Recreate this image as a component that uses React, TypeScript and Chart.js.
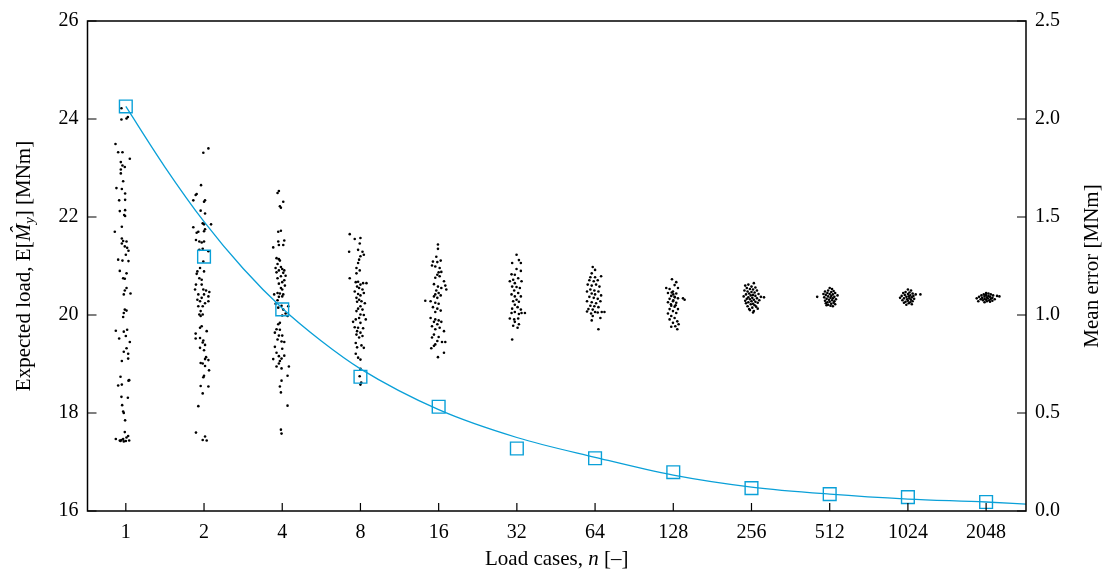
import React, { useEffect, useRef } from "react";
import { Chart, registerables } from "chart.js";

Chart.register(...registerables);

// ---------- data ----------
const categories = ["1", "2", "4", "8", "16", "32", "64", "128", "256", "512", "1024", "2048"];
const leftTicks = [16, 18, 20, 22, 24, 26];
const rightTicks = [0, 0.5, 1, 1.5, 2, 2.5];

// mean error (right axis), one per category
const meanError = [2.064, 1.298, 1.029, 0.685, 0.532, 0.319, 0.269, 0.198, 0.117, 0.086, 0.071, 0.046];

// fitted curve (x in category index units, y on right axis)
const fitX = [0, 0.5, 1, 1.5, 2, 2.5, 3, 4, 5, 6, 7, 8, 9, 10, 11, 11.51];
const fitY = [2.064, 1.755, 1.476, 1.237, 1.034, 0.867, 0.725, 0.517, 0.375, 0.274, 0.183, 0.122, 0.086, 0.061, 0.046, 0.035];

// samples per category: [jitter offset, expected load]
const samples1 = [[-0.056,24.22],[-0.056,23.99],[0.009,24.01],[0.026,24.04],[-0.132,23.49],[-0.098,23.32],[-0.043,23.32],[0.051,23.19],[-0.064,23.12],[-0.043,23.05],[-0.013,23.02],[-0.064,22.97],[-0.064,22.89],[-0.034,22.73],[-0.12,22.59],[-0.051,22.57],[-0.009,22.48],[-0.085,22.34],[-0.009,22.35],[-0.077,22.12],[-0.009,22.14],[-0.009,22.02],[-0.021,22.04],[-0.141,21.70],[-0.051,21.80],[-0.051,21.56],[-0.034,21.51],[0.009,21.50],[-0.051,21.46],[-0.013,21.40],[0.017,21.37],[0.034,21.31],[0,21.23],[-0.098,21.13],[-0.043,21.11],[0.034,21.10],[-0.077,20.90],[0.009,20.85],[-0.034,20.75],[-0.013,20.74],[0.009,20.55],[-0.013,20.50],[0.06,20.44],[-0.026,20.42],[-0.013,20.11],[-0.026,20.04],[0.009,20.09],[-0.034,19.96],[-0.128,19.68],[-0.026,19.66],[0.017,19.70],[0,19.57],[-0.085,19.52],[0.051,19.45],[0.009,19.32],[-0.026,19.25],[0.03,19.21],[0.03,19.11],[-0.051,19.06],[-0.068,18.74],[0.043,18.67],[0.034,18.66],[-0.098,18.56],[-0.051,18.58],[-0.056,18.33],[0.026,18.31],[-0.047,18.16],[-0.034,18.03],[-0.026,18.00],[-0.009,17.85],[-0.013,17.61],[-0.128,17.47],[-0.077,17.44],[-0.056,17.45],[-0.034,17.47],[0.009,17.50],[0.03,17.53],[0.043,17.44],[0,17.43],[-0.026,17.42],[-0.068,17.43]];
const samples2 = [[-0.009,23.31],[0.056,23.40],[-0.038,22.65],[-0.094,22.47],[-0.107,22.45],[-0.137,22.34],[0.013,22.34],[0,22.31],[-0.043,22.13],[0.013,22.07],[-0.017,21.87],[0,21.85],[0.09,21.85],[-0.137,21.79],[-0.073,21.70],[-0.094,21.68],[0,21.71],[0.013,21.75],[-0.103,21.53],[-0.06,21.50],[-0.03,21.48],[0,21.50],[-0.06,21.33],[-0.017,21.35],[0.056,21.30],[-0.009,21.09],[-0.051,20.96],[-0.085,20.89],[-0.094,20.84],[0,20.89],[-0.06,20.75],[-0.03,20.72],[-0.103,20.62],[-0.03,20.62],[-0.009,20.52],[0.026,20.50],[-0.115,20.52],[0.068,20.47],[-0.073,20.42],[0,20.42],[-0.03,20.35],[0.056,20.38],[-0.085,20.31],[-0.051,20.28],[0.013,20.24],[0.056,20.28],[-0.073,20.18],[-0.017,20.18],[-0.043,20.08],[-0.06,20.01],[-0.017,20.01],[-0.043,19.98],[-0.03,19.77],[-0.051,19.74],[0.034,19.67],[-0.107,19.62],[-0.107,19.52],[-0.051,19.53],[-0.009,19.48],[-0.017,19.44],[0.013,19.39],[-0.051,19.33],[0,19.28],[0.026,19.14],[0.013,19.10],[0.056,19.08],[-0.043,19.02],[-0.017,19.01],[0.013,18.96],[0.064,18.87],[0,18.76],[-0.009,18.73],[-0.043,18.55],[0.056,18.54],[-0.017,18.40],[-0.073,18.14],[-0.103,17.60],[-0.017,17.45],[0.013,17.52],[0.034,17.44]];
const samples4 = [[-0.06,22.49],[-0.043,22.53],[0.013,22.31],[-0.03,22.22],[-0.017,22.19],[-0.051,21.70],[-0.017,21.72],[-0.051,21.50],[0.026,21.52],[-0.115,21.38],[-0.043,21.43],[0.013,21.43],[-0.073,21.16],[-0.043,21.14],[-0.03,21.11],[-0.06,21.04],[-0.085,20.96],[-0.017,20.98],[0,20.94],[-0.043,20.91],[0.026,20.91],[0.013,20.86],[-0.073,20.87],[0.043,20.80],[-0.017,20.79],[-0.06,20.75],[0.026,20.71],[0,20.67],[-0.043,20.64],[0.034,20.60],[-0.017,20.55],[0,20.52],[-0.06,20.45],[-0.03,20.44],[0.013,20.42],[-0.103,20.42],[-0.043,20.37],[0,20.38],[-0.06,20.30],[-0.085,20.23],[-0.009,20.19],[0.077,20.18],[-0.051,20.15],[0.013,20.11],[0.043,20.03],[0,19.99],[0.068,19.98],[-0.03,19.84],[-0.051,19.81],[-0.073,19.71],[-0.03,19.70],[-0.094,19.64],[-0.043,19.58],[0,19.58],[-0.06,19.50],[-0.009,19.46],[0.026,19.45],[-0.094,19.35],[0,19.31],[-0.073,19.23],[-0.043,19.16],[0.026,19.17],[-0.115,19.10],[-0.009,19.11],[-0.03,19.06],[-0.043,19.01],[-0.073,18.95],[0.085,18.95],[-0.009,18.91],[0.068,18.76],[-0.009,18.66],[-0.03,18.54],[-0.017,18.42],[0.068,18.15],[-0.017,17.66],[-0.009,17.58]];
const samples8 = [[-0.137,21.65],[-0.073,21.55],[0,21.57],[-0.009,21.46],[-0.145,21.29],[-0.03,21.33],[0.026,21.29],[0.043,21.23],[0,21.20],[-0.017,21.13],[-0.03,21.06],[-0.051,20.96],[-0.009,20.91],[-0.051,20.85],[-0.137,20.75],[-0.06,20.67],[-0.03,20.68],[0.034,20.65],[0.077,20.65],[0,20.62],[-0.043,20.58],[-0.017,20.55],[0.026,20.52],[-0.073,20.48],[-0.03,20.43],[0,20.40],[0.043,20.45],[-0.051,20.35],[-0.017,20.31],[0.013,20.28],[-0.043,20.27],[0.056,20.24],[0,20.18],[-0.03,20.13],[0.026,20.11],[-0.051,20.08],[0,20.01],[0.043,20.00],[-0.017,19.94],[-0.06,19.91],[0.068,19.91],[-0.094,19.86],[0,19.84],[-0.073,19.75],[-0.03,19.74],[0.034,19.73],[-0.043,19.67],[0,19.64],[-0.051,19.60],[0.026,19.57],[-0.017,19.54],[-0.06,19.43],[0.013,19.38],[-0.043,19.34],[0.043,19.33],[-0.06,19.21],[-0.03,19.13],[0,19.09],[0,18.90],[-0.01,18.75],[0.01,18.62],[0,18.58]];
const samples16 = [[-0.009,21.44],[-0.009,21.35],[-0.03,21.19],[-0.073,21.09],[-0.017,21.08],[0.026,21.11],[-0.085,21.01],[-0.043,20.99],[0.013,20.96],[0,20.87],[0.034,20.88],[-0.017,20.82],[0.013,20.79],[-0.043,20.76],[-0.06,20.63],[0.068,20.69],[0.085,20.60],[-0.009,20.58],[0.034,20.55],[0.098,20.52],[-0.03,20.50],[0,20.45],[-0.043,20.42],[0.026,20.40],[-0.06,20.38],[-0.017,20.35],[-0.171,20.29],[-0.103,20.28],[-0.043,20.25],[0,20.23],[-0.073,20.16],[-0.017,20.13],[0.026,20.09],[-0.043,20.06],[-0.103,19.94],[-0.043,19.91],[0,19.89],[-0.06,19.86],[0.034,19.86],[-0.017,19.81],[-0.085,19.77],[0.013,19.74],[-0.043,19.71],[0.068,19.67],[-0.06,19.60],[0,19.55],[-0.085,19.54],[-0.017,19.47],[0.043,19.45],[0.085,19.45],[-0.043,19.40],[-0.094,19.32],[-0.06,19.37],[0.068,19.23],[-0.009,19.14]];
const samples32 = [[-0.004,21.23],[-0.06,21.06],[0.026,21.12],[0.051,21.06],[-0.004,20.94],[-0.068,20.83],[-0.026,20.82],[0.051,20.90],[0.017,20.75],[-0.047,20.72],[-0.09,20.69],[-0.026,20.65],[0.06,20.69],[-0.06,20.58],[-0.004,20.57],[0.038,20.55],[-0.034,20.50],[0.017,20.45],[-0.068,20.42],[-0.026,20.38],[0.051,20.38],[-0.004,20.31],[-0.047,20.28],[0.026,20.27],[-0.026,20.21],[0.009,20.16],[-0.06,20.13],[0.051,20.11],[-0.026,20.06],[-0.068,20.04],[0.026,20.02],[0.06,20.04],[0.103,20.04],[-0.09,19.93],[-0.034,19.91],[0.017,19.93],[-0.026,19.86],[0.026,19.81],[-0.047,19.78],[0.009,19.74],[-0.06,19.50]];
const samples64 = [[-0.03,20.98],[0,20.92],[-0.043,20.85],[-0.06,20.77],[0,20.77],[0.077,20.79],[-0.073,20.71],[-0.017,20.69],[0.034,20.71],[-0.094,20.62],[-0.043,20.60],[0.013,20.62],[0.056,20.58],[-0.06,20.52],[-0.009,20.50],[-0.103,20.48],[0.043,20.48],[-0.043,20.44],[0,20.42],[0.077,20.40],[-0.073,20.37],[-0.017,20.35],[0.034,20.33],[-0.103,20.28],[-0.043,20.26],[0.013,20.24],[0.068,20.28],[-0.06,20.19],[-0.009,20.18],[0.043,20.16],[-0.085,20.12],[-0.03,20.11],[-0.103,20.07],[0,20.06],[-0.051,20.03],[0.034,20.05],[0.085,20.06],[0.12,20.06],[-0.03,19.98],[0.068,19.94],[-0.043,19.89],[0.043,19.71]];
const samples128 = [[-0.017,20.73],[0.038,20.67],[0.017,20.61],[-0.09,20.55],[-0.047,20.53],[0.06,20.55],[-0.004,20.48],[-0.068,20.45],[0.038,20.44],[-0.026,20.39],[0.017,20.37],[-0.047,20.33],[0.06,20.34],[0.124,20.34],[-0.004,20.28],[-0.068,20.26],[0.038,20.25],[0.145,20.31],[-0.026,20.19],[0.017,20.17],[-0.047,20.12],[0.06,20.12],[-0.004,20.08],[-0.068,20.03],[0.038,20.04],[-0.026,19.98],[0.017,19.94],[-0.047,19.91],[0.051,19.87],[-0.004,19.84],[0.068,19.81],[-0.026,19.76],[0.026,19.77],[0.051,19.71],[0,20.42],[-0.02,20.46],[0.02,20.36],[0.0,20.30],[-0.03,20.22],[0.03,20.20]];
const samples256 = [[-0.08,20.60],[-0.04,20.62],[0.03,20.65],[0,20.58],[-0.06,20.55],[0.05,20.56],[-0.02,20.53],[0.02,20.52],[-0.09,20.50],[0.07,20.50],[-0.05,20.48],[0,20.47],[0.04,20.46],[-0.03,20.44],[0.09,20.43],[-0.07,20.42],[0.02,20.41],[-0.01,20.40],[0.05,20.39],[-0.1,20.38],[0.12,20.37],[0.16,20.36],[-0.04,20.36],[0.01,20.35],[0.07,20.34],[-0.06,20.33],[-0.02,20.32],[0.03,20.31],[0.1,20.30],[-0.08,20.29],[0,20.28],[0.05,20.27],[-0.04,20.26],[0.08,20.25],[-0.07,20.24],[0.02,20.23],[-0.01,20.22],[0.04,20.20],[-0.05,20.18],[0.06,20.17],[0.01,20.15],[-0.03,20.12],[0.08,20.13],[0.03,20.08],[-0.02,20.10],[0.02,20.05]];
const samples512 = [[0,20.55],[0.03,20.53],[-0.02,20.50],[0.05,20.49],[-0.06,20.48],[0.02,20.47],[-0.03,20.45],[0.07,20.45],[-0.08,20.43],[0,20.43],[0.04,20.42],[-0.05,20.41],[0.1,20.40],[0.02,20.39],[-0.02,20.38],[-0.16,20.37],[0.06,20.37],[-0.07,20.36],[0.01,20.35],[0.04,20.34],[-0.04,20.33],[0.08,20.32],[-0.01,20.31],[0.03,20.30],[-0.06,20.29],[0.06,20.28],[0,20.27],[-0.03,20.26],[0.05,20.25],[-0.05,20.24],[0.02,20.23],[0.07,20.22],[-0.02,20.21],[0.01,20.19],[0.04,20.18],[-0.04,20.20]];
const samples1024 = [[0,20.52],[0.04,20.50],[-0.03,20.47],[0.02,20.46],[-0.06,20.45],[0.06,20.44],[0,20.43],[0.1,20.42],[0.16,20.42],[-0.04,20.41],[0.03,20.40],[-0.08,20.39],[0.07,20.39],[0.01,20.38],[-0.02,20.37],[0.05,20.36],[-0.1,20.35],[-0.05,20.34],[0.02,20.34],[0.08,20.33],[-0.01,20.32],[0.04,20.31],[-0.07,20.30],[0,20.29],[0.06,20.28],[-0.03,20.27],[0.03,20.26],[-0.05,20.25],[0.01,20.24],[0.05,20.22],[-0.02,20.21]];
const samples2048 = [[0,20.45],[0.03,20.44],[-0.03,20.42],[0.06,20.42],[0,20.41],[-0.06,20.40],[0.09,20.40],[0.14,20.39],[0.17,20.38],[0.03,20.39],[-0.02,20.38],[0.05,20.37],[-0.09,20.37],[0.01,20.36],[-0.05,20.35],[0.08,20.35],[-0.12,20.34],[0.02,20.34],[-0.02,20.33],[0.06,20.33],[-0.07,20.32],[0.11,20.32],[0,20.31],[0.04,20.30],[-0.04,20.30],[0.08,20.29],[-0.1,20.28],[0.01,20.28],[-0.02,20.26],[0.05,20.27]];

const sampleGroups = [samples1, samples2, samples4, samples8, samples16, samples32, samples64, samples128, samples256, samples512, samples1024, samples2048];

// ---------- style ----------
const BLUE = "#0aa0d8";
const SERIF = "'Liberation Serif', 'DejaVu Serif', serif";
const tickFont = { family: SERIF, size: 20 };

type Seg = { text: string; font: string; dy?: number; hat?: boolean };

function drawRich(ctx: CanvasRenderingContext2D, segs: Seg[], cx: number, cy: number, rotate: boolean) {
  ctx.save();
  ctx.translate(cx, cy);
  if (rotate) ctx.rotate(-Math.PI / 2);
  ctx.fillStyle = "#000";
  ctx.textBaseline = "alphabetic";
  ctx.textAlign = "left";
  let total = 0;
  for (const s of segs) {
    ctx.font = s.font;
    total += ctx.measureText(s.text).width;
  }
  let x = -total / 2;
  for (const s of segs) {
    ctx.font = s.font;
    const w = ctx.measureText(s.text).width;
    ctx.fillText(s.text, x, s.dy ?? 0);
    if (s.hat) {
      ctx.textAlign = "center";
      ctx.fillText("\u02C6", x + w / 2 + 2, -5);
      ctx.textAlign = "left";
    }
    x += w;
  }
  ctx.restore();
}

const framePlugin = {
  id: "frameTicks",
  afterDraw(chart: any) {
    const { ctx, chartArea } = chart;
    const { left, right, top, bottom } = chartArea;
    const xs = chart.scales.x;
    const yl = chart.scales.y;
    const yr = chart.scales.yR;
    ctx.save();
    ctx.strokeStyle = "#000";
    ctx.lineWidth = 1.5;
    ctx.strokeRect(left, top, right - left, bottom - top);
    ctx.lineWidth = 1.2;
    ctx.beginPath();
    categories.forEach((_, i) => {
      const px = xs.getPixelForValue(i);
      ctx.moveTo(px, bottom);
      ctx.lineTo(px, bottom - 8);
    });
    leftTicks.forEach((v) => {
      const py = yl.getPixelForValue(v);
      ctx.moveTo(left, py);
      ctx.lineTo(left + 9, py);
    });
    rightTicks.forEach((v) => {
      const py = yr.getPixelForValue(v);
      ctx.moveTo(right, py);
      ctx.lineTo(right - 9, py);
    });
    ctx.stroke();
    ctx.restore();

    const n = `21px ${SERIF}`;
    const it = `italic 21px ${SERIF}`;
    const sub = `italic 15px ${SERIF}`;
    const midY = (top + bottom) / 2;
    drawRich(
      ctx,
      [
        { text: "Expected load, E[", font: n },
        { text: "M", font: it, hat: true },
        { text: "y", font: sub, dy: 4 },
        { text: "] [MNm]", font: n },
      ],
      30,
      midY,
      true
    );
    drawRich(ctx, [{ text: "Mean error [MNm]", font: n }], 1098, midY, true);
    drawRich(
      ctx,
      [
        { text: "Load cases, ", font: n },
        { text: "n", font: it },
        { text: " [\u2013]", font: n },
      ],
      (left + right) / 2,
      565,
      false
    );
  },
};

export default function App() {
  const ref = useRef<HTMLCanvasElement | null>(null);

  useEffect(() => {
    if (!ref.current) return;
    const scatterSets = sampleGroups.map((g, i) => ({
      type: "scatter" as const,
      data: g.map(([dx, v]) => ({ x: i + dx, y: v })),
      yAxisID: "y",
      pointRadius: 1.3,
      pointBackgroundColor: "#000",
      pointBorderWidth: 0,
      showLine: false,
      order: 3,
    }));
    const chart = new Chart(ref.current, {
      type: "scatter",
      data: {
        datasets: [
          ...scatterSets,
          {
            type: "line",
            data: fitX.map((x, i) => ({ x, y: fitY[i] })),
            yAxisID: "yR",
            borderColor: BLUE,
            borderWidth: 1.3,
            pointRadius: 0,
            cubicInterpolationMode: "monotone",
            fill: false,
            order: 2,
          },
          {
            type: "scatter",
            data: meanError.map((v, i) => ({ x: i, y: v })),
            yAxisID: "yR",
            pointStyle: "rect",
            pointRadius: 9,
            pointBorderColor: BLUE,
            pointBackgroundColor: "rgba(0,0,0,0)",
            pointBorderWidth: 1.4,
            showLine: false,
            order: 1,
          },
        ] as any,
      },
      options: {
        animation: false,
        responsive: false,
        events: [],
        layout: { padding: { top: 18, left: 0, right: 0, bottom: 0 } },
        plugins: { legend: { display: false }, tooltip: { enabled: false } },
        scales: {
          x: {
            type: "linear",
            min: -0.49,
            max: 11.51,
            afterBuildTicks: (s: any) => {
              s.ticks = categories.map((_, i) => ({ value: i }));
            },
            ticks: {
              callback: (v: any) => categories[Math.round(v)] ?? "",
              font: tickFont,
              color: "#000",
              padding: 10,
              maxRotation: 0,
              autoSkip: false,
            },
            grid: { display: false, drawTicks: false },
            border: { display: false },
            afterFit: (s: any) => {
              s.height = 59;
            },
          },
          y: {
            position: "left",
            min: 16,
            max: 26,
            afterBuildTicks: (s: any) => {
              s.ticks = leftTicks.map((v) => ({ value: v }));
            },
            ticks: { callback: (v: any) => String(v), font: tickFont, color: "#000", padding: 9 },
            grid: { display: false, drawTicks: false },
            border: { display: false },
            afterFit: (s: any) => {
              s.width = 87.5;
            },
          },
          yR: {
            position: "right",
            min: 0,
            max: 2.5,
            afterBuildTicks: (s: any) => {
              s.ticks = rightTicks.map((v) => ({ value: v }));
            },
            ticks: { callback: (v: any) => Number(v).toFixed(1), font: tickFont, color: "#000", padding: 9 },
            grid: { display: false, drawTicks: false },
            border: { display: false },
            afterFit: (s: any) => {
              s.width = 78;
            },
          },
        },
      },
      plugins: [framePlugin],
    });
    return () => chart.destroy();
  }, []);

  return (
    <div style={{ position: "fixed", left: 0, top: 0, width: 1104, height: 570, background: "#fff" }}>
      <canvas ref={ref} width={1104} height={570} style={{ display: "block" }} />
    </div>
  );
}
